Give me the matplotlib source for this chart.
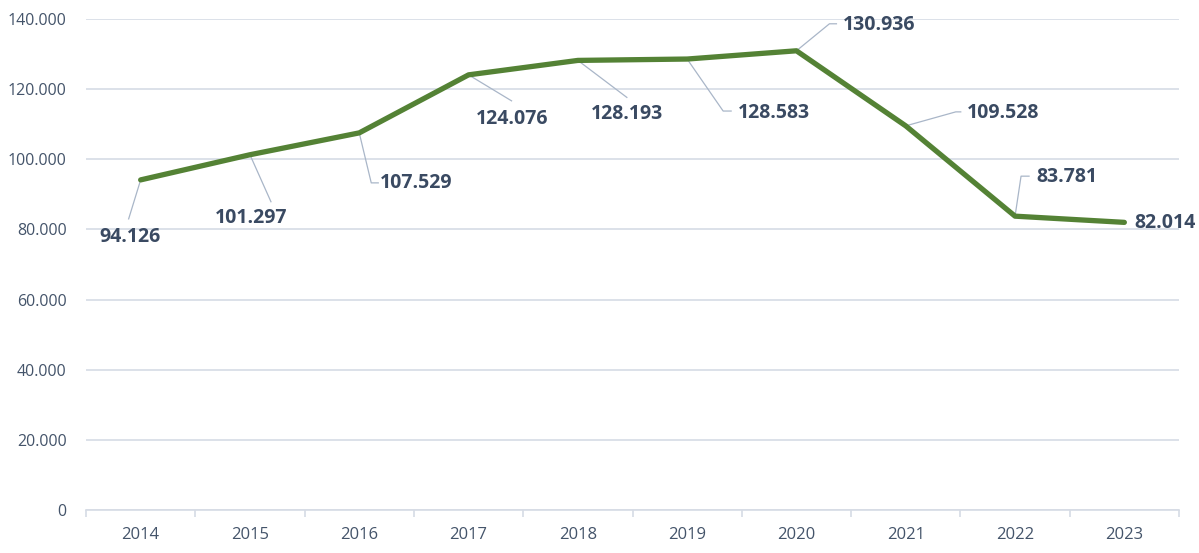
import matplotlib
matplotlib.use("Agg")
import matplotlib.pyplot as plt
import numpy as np
from matplotlib.lines import Line2D
from matplotlib.transforms import IdentityTransform
from matplotlib.ticker import FuncFormatter, MultipleLocator

plt.rcParams["font.family"] = ["Open Sans", "DejaVu Sans"]

years = ["2014", "2015", "2016", "2017", "2018", "2019", "2020", "2021", "2022", "2023"]
values = [94126, 101297, 107529, 124076, 128193, 128583, 130936, 109528, 83781, 82014]
value_labels = ["94.126", "101.297", "107.529", "124.076", "128.193",
                "128.583", "130.936", "109.528", "83.781", "82.014"]

LINE_COLOR = "#548235"
TEXT_COLOR = "#44546A"
LABEL_COLOR = "#3A4A62"
GRID_COLOR = "#D6DCE5"
LEADER_COLOR = "#A9B6C8"

# label placement in pixels relative to the point (x right, y down), align, leader path
label_layout = [
    ((-11, 57), "center", [(0, 0), (-12, 39)]),
    ((1, 63), "center", [(0, 0), (21, 47)]),
    ((21, 50), "left", [(0, 0), (12, 50), (19, 50)]),
    ((44, 44), "center", [(0, 0), (43, 26)]),
    ((49, 54), "center", [(0, 0), (49, 37)]),
    ((51, 54), "left", [(0, 0), (36, 52), (44, 52)]),
    ((46, -26), "left", [(0, 0), (33, -27), (40, -27)]),
    ((61, -13), "left", [(0, 0), (50, -14), (55, -14)]),
    ((21, -39), "left", [(0, 0), (6, -40), (14, -40)]),
    ((10, 1), "left", []),
]

fig = plt.figure(figsize=(11.99, 5.53), dpi=100)
ax = fig.add_axes([86 / 1199, 1 - 510 / 553, 1093 / 1199, 491 / 553])

x = np.arange(len(years))
ax.set_xlim(-0.5, len(years) - 0.5)
ax.set_ylim(0, 140000)

ax.yaxis.set_major_locator(MultipleLocator(20000))
ax.yaxis.set_major_formatter(FuncFormatter(lambda v, _: f"{int(v):,}".replace(",", ".")))
ax.grid(axis="y", color=GRID_COLOR, lw=1.2, zorder=0)
ax.set_axisbelow(True)

ax.set_xticks(x)
ax.set_xticklabels(years)
ax.set_xticks(np.arange(-0.5, len(years)), minor=True)
ax.tick_params(axis="x", which="major", length=0, pad=12, labelsize=12, labelcolor=TEXT_COLOR)
ax.tick_params(axis="x", which="minor", length=5, width=1.2, color=GRID_COLOR)
ax.tick_params(axis="y", length=0, pad=14, labelsize=11.5, labelcolor=TEXT_COLOR)

for side in ["top", "right", "left"]:
    ax.spines[side].set_visible(False)
ax.spines["bottom"].set_color(GRID_COLOR)
ax.spines["bottom"].set_linewidth(1.2)

ax.plot(x, values, color=LINE_COLOR, lw=3.8, solid_capstyle="round", zorder=3)

for i, (v, lab) in enumerate(zip(values, value_labels)):
    (dx, dy), ha, leader = label_layout[i]
    px, py = ax.transData.transform((x[i], v))
    if leader:
        xs = [px + a for a, b in leader]
        ys = [py - b for a, b in leader]
        ax.add_line(Line2D(xs, ys, transform=IdentityTransform(), color=LEADER_COLOR,
                           lw=0.9, zorder=2))
    ax.annotate(lab, (x[i], v), xytext=(dx, -dy), textcoords="offset pixels",
                ha=ha, va="center", fontsize=14, fontweight="bold", color=LABEL_COLOR,
                annotation_clip=False)

fig.savefig("out.png", dpi=100)
